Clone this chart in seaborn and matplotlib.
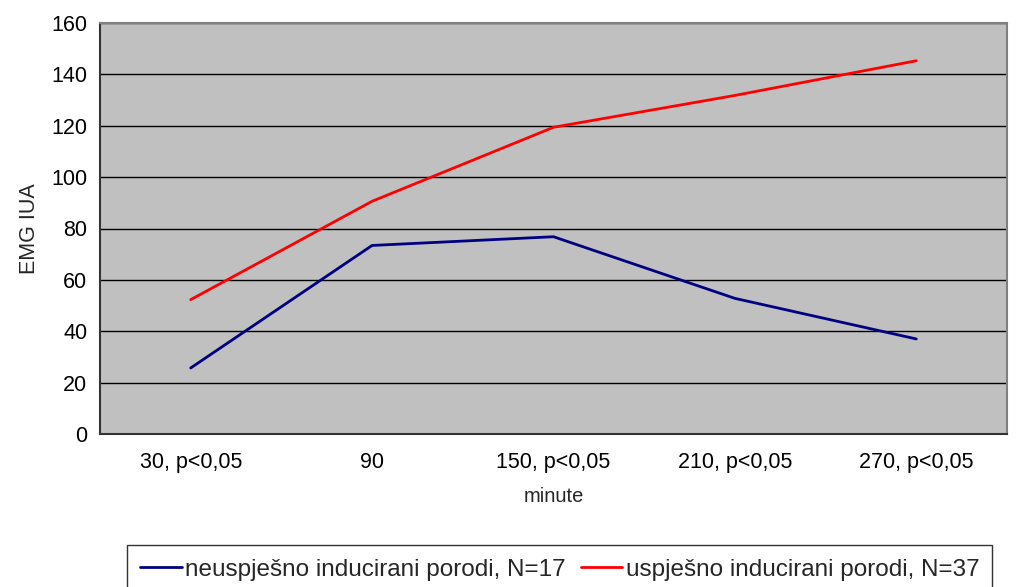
import numpy as np
import pandas as pd
import matplotlib
matplotlib.use("Agg")
import matplotlib.pyplot as plt
import seaborn as sns

# ── Data ──────────────────────────────────────────────────────────
CATEGORIES = ["30, p<0,05", "90", "150, p<0,05", "210, p<0,05", "270, p<0,05"]
NEUSPJESNO = [25.7, 73.4, 76.8, 52.8, 37.0]
USPJESNO = [52.3, 90.6, 119.4, 131.8, 145.3]
SERIES = ["neuspješno inducirani porodi, N=17", "uspješno inducirani porodi, N=37"]
COLORS = ["#000080", "#ff0000"]

sns.set_theme(style="white")
plt.rcParams["font.family"] = ["Liberation Sans", "DejaVu Sans"]

df = pd.DataFrame({
    "pos": list(range(len(CATEGORIES))) * 2,
    "value": NEUSPJESNO + USPJESNO,
    "series": [SERIES[0]] * len(CATEGORIES) + [SERIES[1]] * len(CATEGORIES),
})

fig = plt.figure(figsize=(10.25, 5.87), dpi=100)
ax = fig.add_axes([100 / 1025, 1 - 434 / 587, 907 / 1025, 411 / 587])
ax.set_facecolor("#c0c0c0")

sns.lineplot(data=df, x="pos", y="value", hue="series", palette=COLORS,
             linewidth=2, ax=ax, legend=False, zorder=3)

ax.set_xlim(-0.5, len(CATEGORIES) - 0.5)
ax.set_ylim(0, 160)
ax.set_yticks(np.arange(0, 161, 20))
ax.yaxis.grid(True, color="black", linewidth=1, zorder=1)
ax.set_axisbelow(True)

ax.set_xticks(range(len(CATEGORIES)))
ax.set_xticklabels(CATEGORIES)
ax.set_xticks(np.arange(-0.5, len(CATEGORIES), 1), minor=True)
ax.tick_params(axis="x", which="major", length=0, pad=13, labelsize=15.5, colors="black")
ax.tick_params(axis="x", which="minor", length=6, width=1, direction="out", color="black")
ax.tick_params(axis="y", length=6, width=1, direction="out", labelsize=15.5, colors="black", pad=3)

for side in ["left", "bottom"]:
    ax.spines[side].set_color("#333333")
    ax.spines[side].set_linewidth(1.5)
for side in ["top", "right"]:
    ax.spines[side].set_color("#808080")
    ax.spines[side].set_linewidth(1.5)

ax.set_xlabel("minute", fontsize=14.5, labelpad=10)
ax.set_ylabel("EMG IUA", fontsize=15.5, labelpad=8)

handles = [plt.Line2D([], [], color=c, linewidth=2) for c in COLORS]
fig.legend(handles, SERIES, loc="lower left", bbox_to_anchor=(127 / 1025, -0.012),
           ncol=2, frameon=True, fancybox=False, edgecolor="black", fontsize=17.5,
           handlelength=1.7, handletextpad=0.15, columnspacing=0.6,
           borderpad=0.55, borderaxespad=0)
leg = fig.legends[0]
leg.get_frame().set_linewidth(1)

fig.savefig("out.png", dpi=100)
